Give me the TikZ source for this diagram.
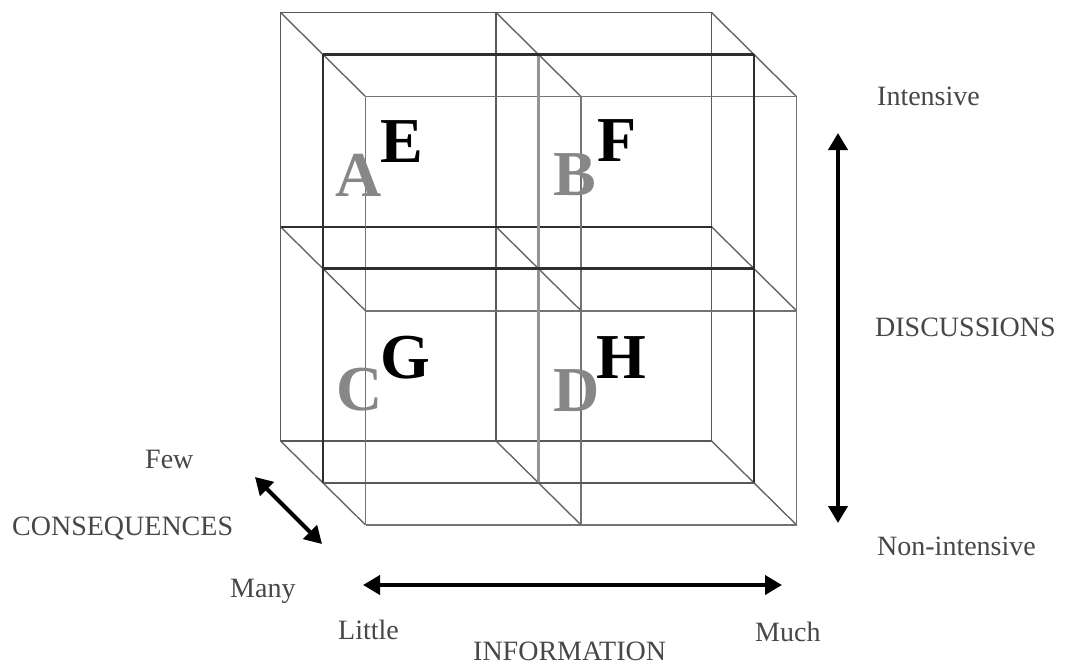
\documentclass[tikz,border=0pt]{standalone}
\usepackage{fontspec}
\setmainfont{Liberation Serif}
\usetikzlibrary{arrows.meta}
\begin{document}
\begin{tikzpicture}[x=1pt,y=-1pt,
  diag/.style={line width=1.4pt,draw=black!60},
  backl/.style={line width=1.7pt,draw=black!65},
  backdark/.style={line width=2pt,draw=black!82},
  midl/.style={line width=2.5pt,draw=black!82},
  midgray/.style={line width=3.8pt,draw=black!42},
  midbot/.style={line width=2.1pt,draw=black!65},
  frontl/.style={line width=1.6pt,draw=black!55},
  grayletter/.style={inner sep=0pt,text=black!47,font=\fontsize{64}{70}\selectfont\bfseries},
  blackletter/.style={inner sep=0pt,text=black,font=\fontsize{64}{70}\selectfont\bfseries},
  axislabel/.style={inner sep=0pt,anchor=base west,text=black!72,font=\fontsize{28}{30}\selectfont},
  axisarrow/.style={line width=4pt,draw=black,{Triangle[length=17pt,width=19pt]}-{Triangle[length=17pt,width=19pt]}}
]
\useasboundingbox (0,0) rectangle (1066,669);
\fill[white] (0,0) rectangle (1066,669);
\foreach \i in {0,1,2}{\foreach \j in {0,1,2}{\foreach \k in {0,1,2}{
  \pgfmathsetmacro\px{280.5+215.5*\i+42.5*\k}
  \pgfmathsetmacro\py{12.5+214.2*\j+42*\k}
  \coordinate (p\i\j\k) at (\px,\py);
}}}
% depth edges
\foreach \i in {0,1,2}{\foreach \j in {0,1,2}{\draw[diag] (p\i\j0) -- (p\i\j2);}}
% back layer
\foreach \i in {0,1,2}{\draw[backl] (p\i00) -- (p\i20);}
\draw[backl] (p000) -- (p200);
\draw[backdark] (p010) -- (p210);
\draw[backl] (p020) -- (p220);
% front layer
\foreach \i in {0,1,2}{\draw[frontl] (p\i02) -- (p\i22);}
\foreach \j in {0,1,2}{\draw[frontl] (p0\j2) -- (p2\j2);}
% middle layer
\draw[midgray] (p101) -- (p121);
\draw[midl] (p001) -- (p021);
\draw[midl] (p201) -- (p221);
\draw[midl] (p001) -- (p201);
\draw[midl] (p011) -- (p211);
\draw[midbot] (p021) -- (p221);
% letters
\node[grayletter] (A) at (359,175) {A};
\node[blackletter] (E) at (402,142) {E};
\node[grayletter] (B) at (575,175) {B};
\node[blackletter] (F) at (617,141) {F};
\node[grayletter] (C) at (360,390) {C};
\node[blackletter] (G) at (405,358) {G};
\node[grayletter] (D) at (577,391) {D};
\node[blackletter] (H) at (621,358) {H};
% axis labels
\node[axislabel] (intensive) at (877,105) {Intensive};
\node[axislabel] (discussions) at (875,336) {DISCUSSIONS};
\node[axislabel] (nonint) at (877,555) {Non-intensive};
\node[axislabel] (few) at (145,468) {Few};
\node[axislabel] (conseq) at (12,535) {CONSEQUENCES};
\node[axislabel] (many) at (230,597) {Many};
\node[axislabel] (little) at (338,639) {Little};
\node[axislabel] (information) at (473,660) {INFORMATION};
\node[axislabel] (much) at (755,641) {Much};
% axis arrows
\coordinate (dtop) at (838,133);
\coordinate (dbot) at (838,523);
\coordinate (ileft) at (363,585);
\coordinate (iright) at (782,585);
\coordinate (cfew) at (255,477);
\coordinate (cmany) at (322,544);
\draw[axisarrow] (dtop) -- (dbot);
\draw[axisarrow] (ileft) -- (iright);
\draw[axisarrow] (cfew) -- (cmany);
\end{tikzpicture}
\end{document}
